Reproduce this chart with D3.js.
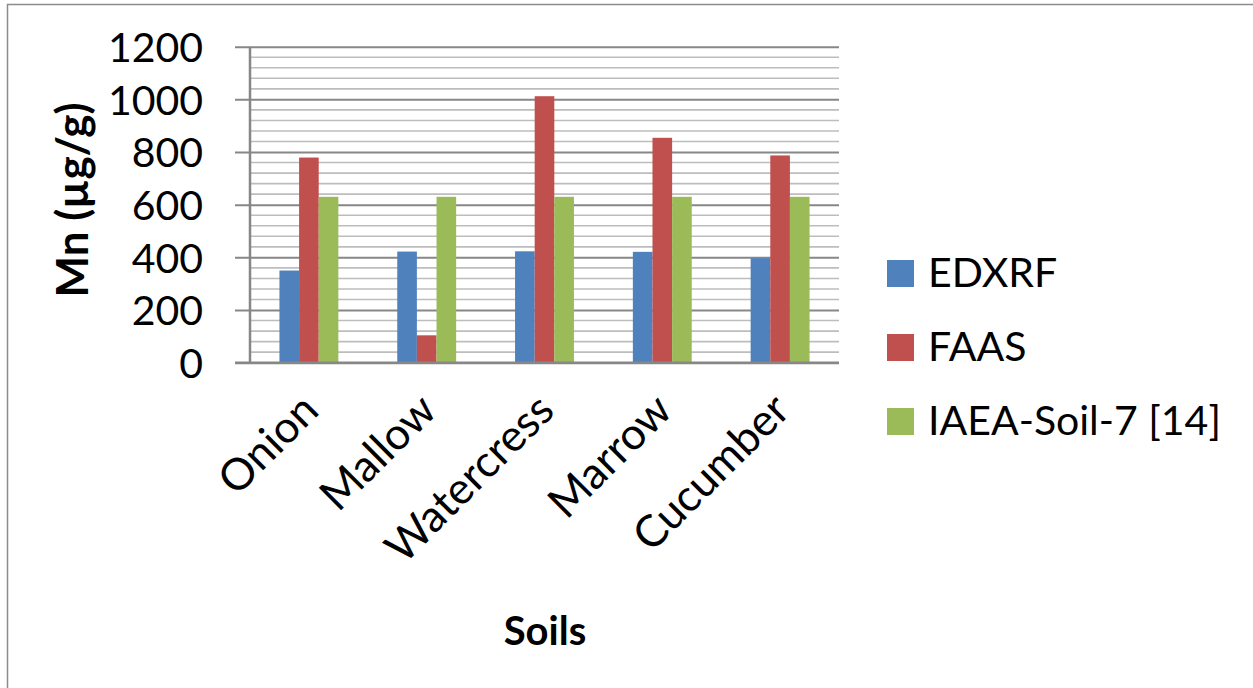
<!DOCTYPE html>
<html>
<head>
<meta charset="utf-8">
<style> body { margin: 0; background: #fff; } text { font-family: Lato, "Liberation Sans", sans-serif; fill: #000; } </style>
<script src="https://d3js.org/d3.v7.min.js"></script>
</head>
<body>
<div id="chart"></div>
<script>

var soils = ["Onion", "Mallow", "Watercress", "Marrow", "Cucumber"];
var seriesNames = ["EDXRF", "FAAS", "IAEA-Soil-7 [14]"];
var seriesColors = ["#4f81bd", "#c0504d", "#9bbb59"];
var edxrf = [350, 422, 423, 421, 397];
var faas = [779, 104, 1012, 854, 787];
var iaea = [630, 630, 630, 630, 630];
var yTicks = [0, 200, 400, 600, 800, 1000, 1200];

var W = 1253, H = 688;
var margin = { top: 46.7, left: 250, right: 414, bottom: 325.3 };
var width = W - margin.left - margin.right,
    height = H - margin.top - margin.bottom;

var svg = d3.select("#chart").append("svg")
    .attr("width", W)
    .attr("height", H);

// outer frame
svg.append("rect")
    .attr("x", 7.5).attr("y", 4.5)
    .attr("width", W - 5).attr("height", H)
    .attr("fill", "none")
    .attr("stroke", "#8c8c8c")
    .attr("stroke-width", 1.5);

var g = svg.append("g").attr("transform", "translate(" + margin.left + "," + margin.top + ")");

var x0 = d3.scaleBand().domain(soils).range([0, width]).paddingInner(0.5).paddingOuter(0.25);
var x1 = d3.scaleBand().domain(seriesNames).range([0, x0.bandwidth()]);
var y = d3.scaleLinear().domain([0, 1200]).range([height, 0]);

// minor grid every 40
g.append("g").selectAll("line")
    .data(d3.range(40, 1200, 40).filter(d => d % 200 !== 0))
    .join("line")
    .attr("x1", 0).attr("x2", width)
    .attr("y1", d => y(d)).attr("y2", d => y(d))
    .attr("stroke", "#bdbdbd")
    .attr("stroke-width", 1.6);

// major grid
var yAxis = d3.axisLeft(y).tickValues(yTicks).tickSize(15).tickPadding(32).tickFormat(d3.format("d"));
var yg = g.append("g").call(yAxis);
yg.select(".domain").remove();
yg.selectAll(".tick line").attr("stroke", "#878787").attr("stroke-width", 2).attr("x2", width).attr("x1", -15);
yg.selectAll(".tick text").attr("font-size", 41).attr("font-family", "Lato").attr("fill", "#000").attr("dy", "0.36em");

// y axis line
g.append("line")
    .attr("x1", 0).attr("x2", 0)
    .attr("y1", 0).attr("y2", height)
    .attr("stroke", "#878787").attr("stroke-width", 2.5);

// bars
var series = [edxrf, faas, iaea];
var rows = soils.map((s, i) => ({ soil: s, vals: seriesNames.map((n, j) => ({ name: n, v: series[j][i], c: seriesColors[j] })) }));

g.append("g").selectAll("g")
    .data(rows)
    .join("g")
    .attr("transform", d => "translate(" + x0(d.soil) + ",0)")
    .selectAll("rect")
    .data(d => d.vals)
    .join("rect")
    .attr("x", d => x1(d.name))
    .attr("y", d => y(d.v))
    .attr("width", x1.bandwidth())
    .attr("height", d => height - y(d.v))
    .attr("fill", d => d.c);

// x baseline
g.append("line")
    .attr("x1", -15).attr("x2", width)
    .attr("y1", height).attr("y2", height)
    .attr("stroke", "#878787").attr("stroke-width", 2.5);

// category labels
g.append("g").selectAll("text")
    .data(soils)
    .join("text")
    .attr("transform", d => "translate(" + (x0(d) + x0.bandwidth() / 2 + 12) + "," + (height + 50) + ") rotate(-45)")
    .attr("text-anchor", "end")
    .attr("font-size", 44)
    .text(d => d);

// axis titles
svg.append("text")
    .attr("transform", "translate(88,200) rotate(-90)")
    .attr("text-anchor", "middle")
    .attr("font-size", 44)
    .attr("font-weight", "bold")
    .text("Mn (µg/g)");

svg.append("text")
    .attr("x", 545).attr("y", 645)
    .attr("text-anchor", "middle")
    .attr("font-size", 40)
    .attr("font-weight", "bold")
    .text("Soils");

// legend
var legend = svg.append("g").attr("transform", "translate(887,260)");
var li = legend.selectAll("g")
    .data(seriesNames)
    .join("g")
    .attr("transform", (d, i) => "translate(0," + i * 74 + ")");
li.append("rect")
    .attr("width", 27).attr("height", 27)
    .attr("fill", (d, i) => seriesColors[i]);
li.append("text")
    .attr("x", 41).attr("y", 27)
    .attr("font-size", 41)
    .text(d => d);

</script>
</body>
</html>
